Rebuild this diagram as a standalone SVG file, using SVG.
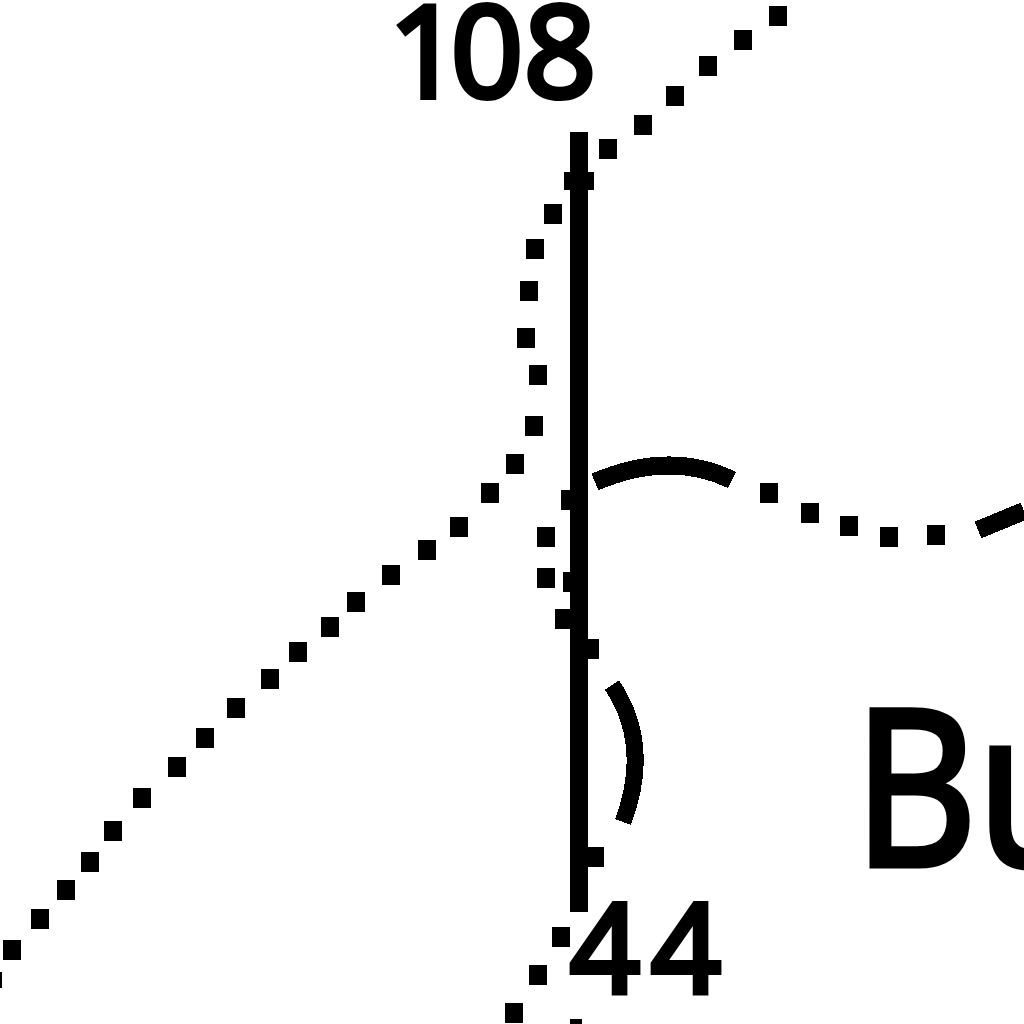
<svg xmlns="http://www.w3.org/2000/svg" width="1024" height="1024" viewBox="0 0 1024 1024">
<style>
text{font-family:"Open Sans","Noto Sans",Arial,sans-serif;font-weight:400;fill:#000;stroke:#000}
.s{fill:none;stroke:#000;stroke-width:18}
</style>
<defs><rect id="d" x="-9" y="-9" width="18" height="20" fill="#000"/></defs>
<rect width="1024" height="1024" fill="#fff"/>
<g id="connectors" shape-rendering="crispEdges">
<path class="s" d="M579 132V912"/>
<path class="s" d="M595 482Q670 450 732 480"/>
<path class="s" d="M612 685Q652 745 623 822" style="stroke-width:17"/>
<path class="s" d="M978 530L1024 511"/>
<g id="dots">
<use href="#d" x="778" y="15"/><use href="#d" x="743" y="39"/><use href="#d" x="708" y="65"/><use href="#d" x="675" y="95"/><use href="#d" x="643" y="124"/><use href="#d" x="608" y="148"/>
<rect x="564" y="172" width="30" height="18"/>
<use href="#d" x="553" y="213"/><use href="#d" x="535" y="248"/><use href="#d" x="529" y="290"/><use href="#d" x="526" y="337"/><use href="#d" x="538" y="374"/><use href="#d" x="534" y="425"/><use href="#d" x="515" y="463"/><use href="#d" x="490" y="492"/><use href="#d" x="459" y="526"/><use href="#d" x="427" y="549"/><use href="#d" x="391" y="574"/><use href="#d" x="356" y="601"/><use href="#d" x="330" y="626"/><use href="#d" x="298" y="651"/><use href="#d" x="270" y="678"/><use href="#d" x="236" y="707"/><use href="#d" x="205" y="737"/><use href="#d" x="177" y="766"/><use href="#d" x="142" y="797"/><use href="#d" x="113" y="830"/><use href="#d" x="90" y="861"/><use href="#d" x="66" y="889"/><use href="#d" x="40" y="918"/><use href="#d" x="12" y="949"/>
<use href="#d" x="570" y="499"/><use href="#d" x="546" y="536"/><use href="#d" x="546" y="577"/><use href="#d" x="572" y="581"/><use href="#d" x="564" y="618"/><use href="#d" x="590" y="648"/><use href="#d" x="595" y="856"/><use href="#d" x="561" y="936"/><use href="#d" x="538" y="974"/><use href="#d" x="514" y="1012"/>
<use href="#d" x="769" y="492"/><use href="#d" x="810" y="512"/><use href="#d" x="849" y="525"/><use href="#d" x="889" y="536"/><use href="#d" x="936" y="534"/>
<rect x="570" y="1019" width="12" height="5"/>
<rect x="0" y="972" width="2" height="16"/>
</g>
</g>
<g id="node-108"><text x="389 451 524" y="97" font-size="126" stroke-width="6">108</text></g>
<g id="node-44"><text x="570 651" y="992" font-size="122" stroke-width="6">44</text></g>
<g id="node-Bu"><text transform="translate(854 865) scale(.88 1)" x="0 140" y="0" font-size="216" stroke-width="7">Bu</text></g>
</svg>
